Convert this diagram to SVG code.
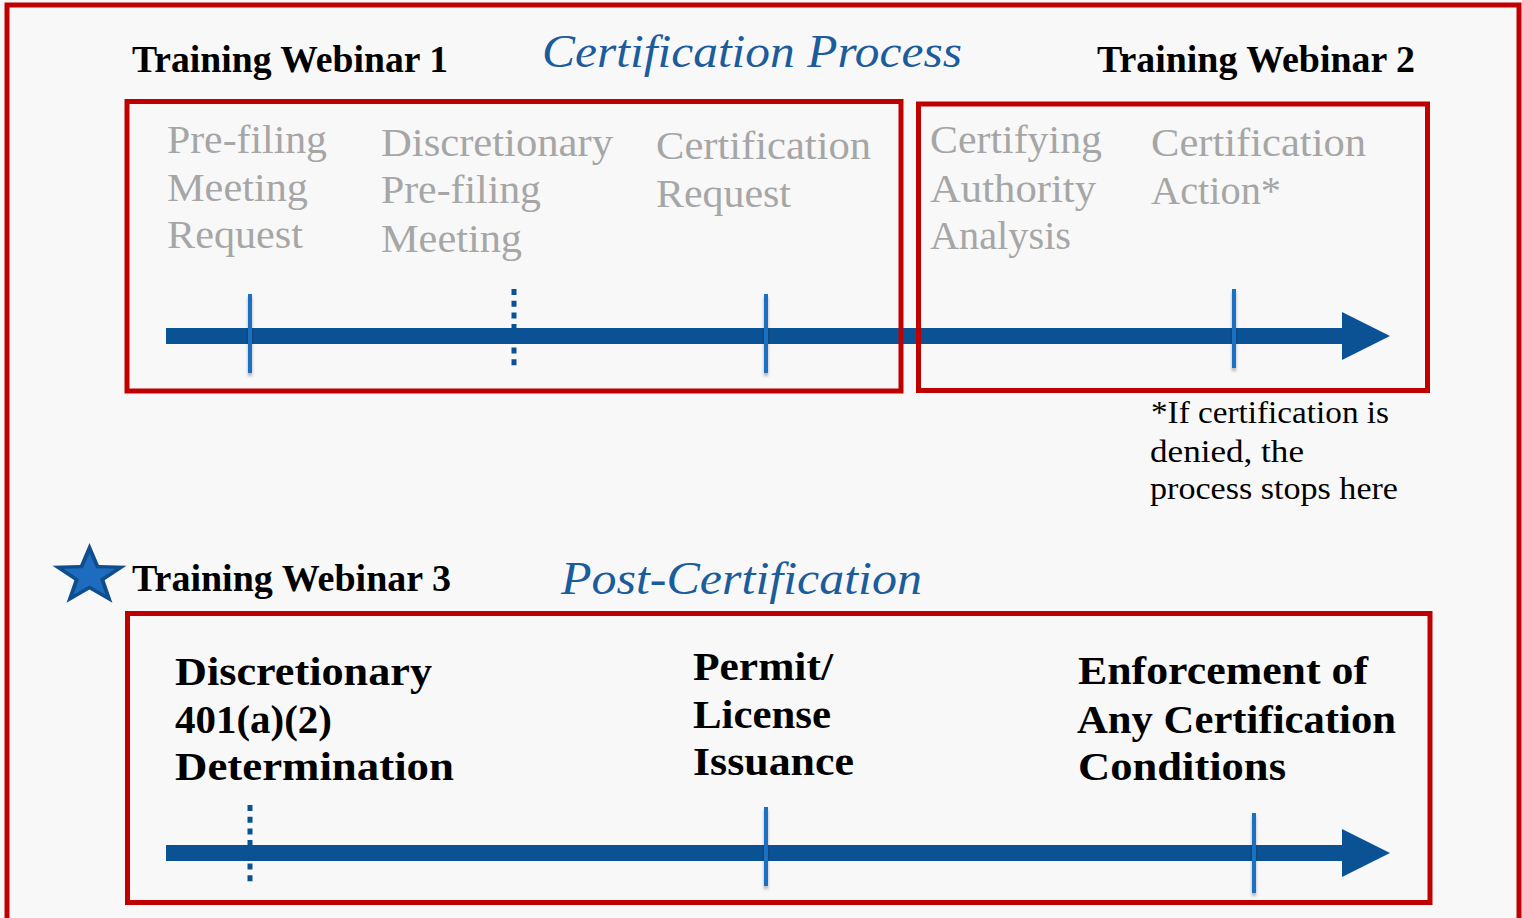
<svg xmlns="http://www.w3.org/2000/svg" width="1522" height="918" viewBox="0 0 1522 918">
  <defs>
    <style>
      .frame { fill: none; stroke: #C00000; stroke-width: 5; }
      .hdr { font-family: "Liberation Serif", "Times New Roman", serif; font-weight: bold; font-size: 37px; fill: #000; }
      .title { font-family: "Liberation Serif", "Times New Roman", serif; font-style: italic; font-size: 46px; fill: #1B5C9C; }
      .step { font-family: "Liberation Serif", "Times New Roman", serif; font-size: 41px; fill: #A6A6A6; }
      .post { font-family: "Liberation Serif", "Times New Roman", serif; font-weight: bold; font-size: 41px; fill: #000; }
      .note { font-family: "Liberation Serif", "Times New Roman", serif; font-size: 31px; fill: #000; }
      .bar { fill: #0B5294; }
      .tick { fill: #1E6FC2; }
      .dots { stroke: #0B5294; stroke-width: 5; stroke-dasharray: 6 5.7; fill: none; }
    </style>
    <!-- soft shadow under the tick marks -->
    <filter id="tickShadow" filterUnits="userSpaceOnUse" x="0" y="0" width="1522" height="918">
      <feDropShadow dx="0" dy="3" stdDeviation="1.5" flood-color="#000" flood-opacity="0.3"/>
    </filter>
  </defs>

  <!-- page -->
  <rect x="0" y="0" width="1522" height="918" fill="#F8F8F8"/>
  <rect x="7" y="5" width="1512" height="930" class="frame"/>

  <!-- timelines -->
  <g id="connectors">
    <g id="timeline-certification">
      <rect class="bar" x="166" y="328" width="1180" height="16"/>
      <polygon class="bar" points="1342,312 1390,336 1342,360"/>
      <g filter="url(#tickShadow)">
        <rect class="tick" x="248" y="294" width="4" height="79"/>
        <rect class="tick" x="764" y="294" width="4" height="79"/>
        <rect class="tick" x="1232" y="289" width="4" height="79"/>
      </g>
      <line class="dots" x1="514" y1="289" x2="514" y2="369"/>
    </g>
    <g id="timeline-post">
      <rect class="bar" x="166" y="845" width="1180" height="16"/>
      <polygon class="bar" points="1342,829 1390,853 1342,877"/>
      <g filter="url(#tickShadow)">
        <rect class="tick" x="764" y="807" width="4" height="79"/>
        <rect class="tick" x="1252" y="813" width="4" height="80"/>
      </g>
      <line class="dots" x1="250" y1="805" x2="250" y2="885"/>
    </g>
  </g>

  <!-- headings -->
  <g id="heading-process">
    <text class="hdr" x="132" y="72" textLength="316" lengthAdjust="spacingAndGlyphs">Training Webinar 1</text>
    <text class="title" x="542" y="67" textLength="420" lengthAdjust="spacingAndGlyphs">Certification Process</text>
    <text class="hdr" x="1097" y="72" textLength="318" lengthAdjust="spacingAndGlyphs">Training Webinar 2</text>
  </g>

  <!-- webinar 1 stages -->
  <g id="stage-group-1">
    <rect class="frame" x="127" y="101.5" width="774" height="289.5"/>
    <g id="prefiling-request">
      <text class="step" x="167" y="153" textLength="160" lengthAdjust="spacingAndGlyphs">Pre-filing</text>
      <text class="step" x="167" y="201" textLength="141" lengthAdjust="spacingAndGlyphs">Meeting</text>
      <text class="step" x="167" y="248" textLength="136" lengthAdjust="spacingAndGlyphs">Request</text>
    </g>
    <g id="discretionary-meeting">
      <text class="step" x="381" y="156" textLength="232" lengthAdjust="spacingAndGlyphs">Discretionary</text>
      <text class="step" x="381" y="203" textLength="160" lengthAdjust="spacingAndGlyphs">Pre-filing</text>
      <text class="step" x="381" y="252" textLength="141" lengthAdjust="spacingAndGlyphs">Meeting</text>
    </g>
    <g id="certification-request">
      <text class="step" x="656" y="159" textLength="215" lengthAdjust="spacingAndGlyphs">Certification</text>
      <text class="step" x="656" y="207" textLength="135" lengthAdjust="spacingAndGlyphs">Request</text>
    </g>
  </g>

  <!-- webinar 2 stages -->
  <g id="stage-group-2">
    <rect class="frame" x="918.5" y="104" width="509" height="286.5"/>
    <g id="authority-analysis">
      <text class="step" x="930" y="153" textLength="172" lengthAdjust="spacingAndGlyphs">Certifying</text>
      <text class="step" x="930" y="202" textLength="166" lengthAdjust="spacingAndGlyphs">Authority</text>
      <text class="step" x="930" y="249" textLength="141" lengthAdjust="spacingAndGlyphs">Analysis</text>
    </g>
    <g id="certification-action">
      <text class="step" x="1151" y="156" textLength="215" lengthAdjust="spacingAndGlyphs">Certification</text>
      <text class="step" x="1151" y="204" textLength="130" lengthAdjust="spacingAndGlyphs">Action*</text>
    </g>
  </g>

  <g id="denial-note">
    <text class="note" x="1151" y="423" textLength="238" lengthAdjust="spacingAndGlyphs">*If certification is</text>
    <text class="note" x="1150" y="462" textLength="154" lengthAdjust="spacingAndGlyphs">denied, the</text>
    <text class="note" x="1150" y="499" textLength="248" lengthAdjust="spacingAndGlyphs">process stops here</text>
  </g>

  <!-- post-certification -->
  <g id="heading-post">
    <polygon fill="#0F4E8C" points="89.5,543 98.9,565.1 126.5,565.8 104.6,580.2 112.4,602.7 89.5,589.5 66.6,602.7 74.4,580.2 52.5,565.8 80.1,565.1"/>
    <polygon fill="#1E6CC0" transform="translate(89.5,576) scale(0.7) translate(-89.5,-576)" points="89.5,543 98.9,565.1 126.5,565.8 104.6,580.2 112.4,602.7 89.5,589.5 66.6,602.7 74.4,580.2 52.5,565.8 80.1,565.1"/>
    <text class="hdr" x="132" y="591" textLength="319" lengthAdjust="spacingAndGlyphs">Training Webinar 3</text>
    <text class="title" x="561" y="594" textLength="361" lengthAdjust="spacingAndGlyphs">Post-Certification</text>
  </g>

  <g id="stage-group-3">
    <rect class="frame" x="127.5" y="613.5" width="1302.5" height="289"/>
    <g id="discretionary-determination">
      <text class="post" x="175" y="685" textLength="257" lengthAdjust="spacingAndGlyphs">Discretionary</text>
      <text class="post" x="175" y="733" textLength="157" lengthAdjust="spacingAndGlyphs">401(a)(2)</text>
      <text class="post" x="175" y="780" textLength="279" lengthAdjust="spacingAndGlyphs">Determination</text>
    </g>
    <g id="permit-issuance">
      <text class="post" x="693" y="680" textLength="140" lengthAdjust="spacingAndGlyphs">Permit/</text>
      <text class="post" x="693" y="728" textLength="138" lengthAdjust="spacingAndGlyphs">License</text>
      <text class="post" x="693" y="775" textLength="161" lengthAdjust="spacingAndGlyphs">Issuance</text>
    </g>
    <g id="condition-enforcement">
      <text class="post" x="1078" y="684" textLength="290" lengthAdjust="spacingAndGlyphs">Enforcement of</text>
      <text class="post" x="1077" y="733" textLength="319" lengthAdjust="spacingAndGlyphs">Any Certification</text>
      <text class="post" x="1078" y="780" textLength="208" lengthAdjust="spacingAndGlyphs">Conditions</text>
    </g>
  </g>
</svg>
